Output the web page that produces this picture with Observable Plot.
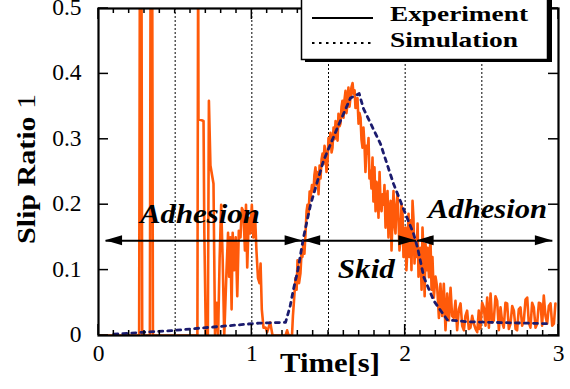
<!DOCTYPE html>
<html><head><meta charset="utf-8">
<script src="https://cdn.jsdelivr.net/npm/d3@7"></script>
<script src="https://cdn.jsdelivr.net/npm/@observablehq/plot@0.6"></script>
<style>body{margin:0;background:#fff}svg{display:block}</style>
</head><body><div id="chart"></div>
<script>
// Experiment: time [s] and slip ratio
const expTime = [0.00,0.265,0.27,0.28,0.285,0.335,0.34,0.35,0.355,0.645,0.65,0.652,0.685,0.69,0.70,0.713,0.72,0.73,0.75,0.76,0.772,0.78,0.79,0.80,0.81,0.82,0.835,0.845,0.852,0.86,0.868,0.875,0.885,0.895,0.905,0.915,0.926,0.935,0.945,0.955,0.962,0.97,0.98,0.99,1.0,1.01,1.02,1.03,1.04,1.05,1.057,1.065,1.076,1.09,1.10,1.12,1.135,1.22,1.23,1.24,1.262,
1.268,1.275,1.285,1.292,1.298,1.308,1.317,1.325,1.330,1.337,1.343,1.350,1.357,1.363,1.370,1.377,1.383,1.392,1.402,1.408,1.415,1.422,1.428,1.435,1.442,1.448,1.455,1.461,1.467,1.474,1.480,1.487,1.494,1.500,1.507,1.513,1.520,1.526,1.533,1.540,1.546,1.553,1.559,1.565,1.572,1.578,1.585,1.591,1.598,1.604,1.611,1.617,1.624,1.630,1.637,1.643,1.650,1.657,1.663,1.670,1.676,1.683,1.689,1.696,1.702,1.709,1.715,1.722,1.728,1.735,1.741,1.748,1.754,1.761,1.767,1.774,1.780,1.787,1.793,1.800,1.807,1.813,1.820,1.826,1.833,1.840,1.846,1.852,1.859,1.865,1.872,1.878,1.885,1.891,1.898,1.905,1.911,1.918,1.924,1.930,1.937,1.943,1.950,1.957,1.963,1.970,1.976,1.983,1.989,1.996,2.002,2.008,2.015,2.022,2.028,2.035,2.041,2.048,2.054,2.061,2.067,2.074,2.081,2.087,2.094,2.100,2.107,2.113,2.120,2.127,2.133,2.140,2.146,2.155,2.165,2.172,2.178,2.187,2.198,2.209,2.22,2.23,2.241,2.252,2.263,2.274,2.285,2.296,2.306,2.317,2.328,2.339,2.35,2.361,2.372,2.383,2.393,2.404,2.415,2.426,2.437,2.448,2.459,2.470,2.480,2.486,2.491,2.502,2.513,2.524,2.535,2.546,2.557,2.567,2.578,2.589,2.600,2.611,2.622,2.633,2.643,2.654,2.665,2.676,2.687,2.698,2.709,2.72,2.730,2.741,2.752,2.763,2.774,2.785,2.796,2.806,2.817,2.828,2.839,2.85,2.861,2.872,2.883,2.893,2.904,2.915,2.926,2.937,2.948,2.959,2.970,2.980];
const expSlip = [0,0,0.6,0.6,0,0,0.6,0.6,0,0,0.6,0.331,0.328,0.16,0,0,0.359,0.26,0.232,0,0.05,0,0.118,0.2,0.115,0,0.10,0.157,0.09,0.15,0.04,0.157,0.1,0.15,0.06,0.16,0.15,0.195,0.19,0.13,0.20,0.104,0.18,0.156,0.2,0.15,0.19,0.13,0.088,0.08,0.11,0.04,0.012,0.012,0.005,0.02,0,0,0.008,0,0,
0.03,0.053,0.088,0.07,0.115,0.08,0.095,0.13,0.12,0.145,0.125,0.156,0.19,0.20,0.186,0.22,0.21,0.23,0.22,0.245,0.257,0.23,0.25,0.216,0.26,0.24,0.27,0.278,0.262,0.29,0.282,0.25,0.267,0.302,0.29,0.31,0.28,0.287,0.318,0.30,0.328,0.31,0.298,0.339,0.32,0.324,0.35,0.359,0.333,0.36,0.374,0.34,0.354,0.379,0.35,0.363,0.38,0.386,0.369,0.375,0.348,0.355,0.363,0.324,0.34,0.333,0.30,0.287,0.318,0.29,0.25,0.29,0.278,0.302,0.24,0.252,0.225,0.272,0.205,0.257,0.19,0.235,0.226,0.18,0.25,0.20,0.19,0.216,0.2,0.23,0.165,0.2,0.221,0.15,0.19,0.206,0.13,0.186,0.221,0.17,0.156,0.2,0.216,0.176,0.13,0.15,0.2,0.186,0.12,0.14,0.165,0.1,0.134,0.186,0.12,0.176,0.1,0.206,0.18,0.11,0.145,0.12,0.171,0.09,0.13,0.134,0.07,0.165,0.125,0.06,0.14,0.1,0.134,0.089,0.15,0.07,0.12,0.058,0.09,0.073,0.027,0.079,0.03,0.079,0.008,0.064,0.023,0.073,0.03,0.027,0.053,0.008,0.04,0.049,0.015,0.008,0.03,0.038,0.01,0.012,0.03,0.018,0.01,0.005,0.038,0.01,0.012,0.05,0.043,0.015,0.058,0.012,0.064,0.02,0.023,0.06,0.053,0.008,0.043,0.02,0.012,0.05,0.049,0.01,0.018,0.045,0.038,0.01,0.008,0.04,0.043,0.015,0.023,0.055,0.058,0.02,0.012,0.05,0.043,0.012,0.018,0.05,0.049,0.015,0.061,0.03,0.018,0.045,0.049,0.015,0.018,0.049];

// Simulation
const simTime = [0.10,0.30,0.45,0.60,0.75,0.90,1.05,1.22,1.25,1.27,1.30,1.337,1.383,1.467,1.559,1.643,1.70,1.728,1.839,1.924,2.002,2.054,2.081,2.122,2.187,2.274,2.404,2.578,2.95];
const simSlip = [0.002,0.005,0.007,0.010,0.013,0.016,0.019,0.020,0.045,0.069,0.10,0.15,0.20,0.267,0.318,0.363,0.37,0.347,0.293,0.232,0.186,0.156,0.134,0.089,0.053,0.024,0.021,0.020,0.018];

const xTickLabels = [0, 1, 2, 3];
const yTickLabels = [0, 0.1, 0.2, 0.3, 0.4, 0.5];
const gridTimes = [0.5, 1, 1.5, 2, 2.5];
const phaseNames = ["Adhesion", "Skid", "Adhesion"];
const phaseStart = [0.046, 1.338, 2.078];
const phaseEnd = [1.328, 2.07, 2.96];
const arrowLevel = 0.145;
const seriesNames = ["Experiment", "Simulation"];

const expData = expTime.map((t, i) => ({t, v: expSlip[i]}));
const simData = simTime.map((t, i) => ({t, v: simSlip[i]}));
const phases = phaseNames.map((name, i) => ({name, start: phaseStart[i], end: phaseEnd[i]}));

const FONT = "'Liberation Serif', 'Times New Roman', Times, serif";
const ORANGE = "#ff5a0a", NAVY = "#1b1b6e";

const chart = Plot.plot({
  width: 570, height: 389,
  marginLeft: 98, marginRight: 12, marginTop: 8, marginBottom: 54,
  x: {domain: [0, 3], axis: null},
  y: {domain: [0, 0.5], axis: null},
  style: {background: "#fff", fontFamily: FONT},
  marks: [
    Plot.ruleX(gridTimes, {x: d => d, stroke: "black", strokeWidth: 1, strokeDasharray: "2,2"}),
    Plot.line(expData, {x: "t", y: "v", stroke: ORANGE, strokeWidth: 2.6, clip: true}),
    Plot.line(simData, {x: "t", y: "v", stroke: NAVY, strokeWidth: 2.8, strokeDasharray: "4,5"}),
    Plot.frame({stroke: "black", strokeWidth: 2.2}),
    Plot.text(xTickLabels, {x: d => d, y: 0, dy: 18, text: d => String(d), fontSize: 23.5, fontFamily: FONT}),
    Plot.text(yTickLabels, {x: 0, y: d => d, dx: -17, dy: -1, textAnchor: "end", text: d => d === 0 ? "0" : d.toFixed(1), fontSize: 23.5, fontFamily: FONT}),
    Plot.link(phases, {x1: "start", x2: "end", y1: arrowLevel, y2: arrowLevel, stroke: "black", strokeWidth: 2})
  ]
});
document.getElementById("chart").appendChild(chart);

const xs = chart.scale("x"), ys = chart.scale("y");
const X = d3.scaleLinear(xs.domain, xs.range), Y = d3.scaleLinear(ys.domain, ys.range);
const svg = d3.select(chart);
const [x0, x1] = xs.range, [yb, yt] = ys.range;

// ticks (inward)
const g = svg.append("g").attr("stroke", "black").attr("stroke-width", 1.5);
d3.range(0, 31).forEach(k => {
  const t = k / 10, px = X(t), len = k % 10 === 0 ? 11 : 5;
  g.append("line").attr("x1", px).attr("x2", px).attr("y1", yb).attr("y2", yb - len);
  g.append("line").attr("x1", px).attr("x2", px).attr("y1", yt).attr("y2", yt + len);
});
yTickLabels.forEach(v => {
  const py = Y(v);
  g.append("line").attr("x1", x0).attr("x2", x0 + 10).attr("y1", py).attr("y2", py);
  g.append("line").attr("x1", x1).attr("x2", x1 - 10).attr("y1", py).attr("y2", py);
});

// arrowheads
const ay = Y(arrowLevel);
phases.forEach(p => {
  const a = X(p.start), b = X(p.end);
  svg.append("path").attr("d", `M${a},${ay}L${a + 17},${ay - 5}L${a + 17},${ay + 5}Z`).attr("fill", "black");
  svg.append("path").attr("d", `M${b},${ay}L${b - 17},${ay - 5}L${b - 17},${ay + 5}Z`).attr("fill", "black");
});

function txt(sel, x, y, size, w) {
  return sel.append("text").attr("x", x).attr("y", y).attr("text-anchor", "start")
    .style("font-family", FONT).attr("font-size", size).attr("font-weight", "bold")
    .attr("textLength", w).attr("lengthAdjust", "spacingAndGlyphs");
}

// phase labels
const labelPos = [{t: 0.665, v: 0.172, w: 120}, {t: 1.75, v: 0.087, w: 57}, {t: 2.54, v: 0.179, w: 119}];
phases.forEach((p, i) => {
  const L = labelPos[i];
  txt(svg, X(L.t) - L.w / 2, Y(L.v), 27, L.w).attr("font-style", "italic").text(p.name);
});

// axis titles
txt(svg, 280, 372, 27, 100).text("Time[s]");
const yl = txt(svg, 0, 0, 26, 150).attr("transform", "translate(35,244) rotate(-90)");
yl.append("tspan").text("Slip Ratio ");
yl.append("tspan").attr("font-weight", "normal").text("1");

// legend
const lg = svg.append("g");
lg.append("rect").attr("x", 305).attr("y", -3).attr("width", 247).attr("height", 65).attr("fill", "black");
lg.append("rect").attr("x", 301.5).attr("y", -5).attr("width", 246).attr("height", 64.5)
  .attr("fill", "white").attr("stroke", "black").attr("stroke-width", 1.5);
lg.append("line").attr("x1", 312).attr("x2", 373).attr("y1", 18).attr("y2", 18).attr("stroke", "black").attr("stroke-width", 2);
lg.append("line").attr("x1", 312).attr("x2", 373).attr("y1", 43).attr("y2", 43).attr("stroke", "black").attr("stroke-width", 2).attr("stroke-dasharray", "2.5,4.5");
txt(lg, 390, 21, 21, 138).text(seriesNames[0]);
txt(lg, 390, 47, 21, 128).text(seriesNames[1]);
</script></body></html>
